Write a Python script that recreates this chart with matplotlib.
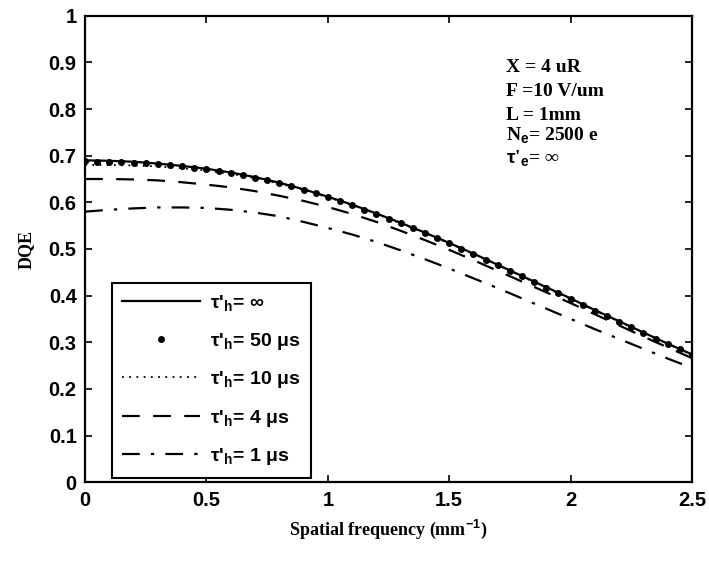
import numpy as np
import matplotlib
matplotlib.use("Agg")
import matplotlib.pyplot as plt

freq = [0.0, 0.1, 0.2, 0.3, 0.4, 0.5, 0.6, 0.7, 0.8, 0.9, 1.0, 1.1, 1.2,
        1.3, 1.4, 1.5, 1.6, 1.7, 1.8, 1.9, 2.0, 2.1, 2.2, 2.3, 2.4, 2.5]
dqe_inf = [0.690, 0.689, 0.687, 0.683, 0.678, 0.672, 0.664, 0.654, 0.642, 0.628,
           0.612, 0.595, 0.576, 0.556, 0.535, 0.513, 0.490, 0.466, 0.442, 0.418,
           0.394, 0.369, 0.345, 0.321, 0.297, 0.274]
dqe_50us = [0.688, 0.687, 0.685, 0.682, 0.677, 0.671, 0.663, 0.653, 0.641, 0.627,
            0.611, 0.594, 0.575, 0.555, 0.534, 0.512, 0.489, 0.465, 0.441, 0.417,
            0.393, 0.368, 0.344, 0.320, 0.296, 0.273]
dqe_10us = [0.680, 0.680, 0.679, 0.677, 0.673, 0.668, 0.661, 0.652, 0.640, 0.627,
            0.611, 0.594, 0.575, 0.555, 0.534, 0.512, 0.489, 0.465, 0.441, 0.417,
            0.393, 0.368, 0.344, 0.320, 0.296, 0.273]
dqe_4us = [0.650, 0.650, 0.649, 0.647, 0.643, 0.638, 0.632, 0.624, 0.614, 0.603,
           0.590, 0.575, 0.558, 0.539, 0.519, 0.498, 0.476, 0.453, 0.430, 0.407,
           0.384, 0.360, 0.336, 0.312, 0.289, 0.266]
dqe_1us = [0.580, 0.584, 0.587, 0.589, 0.589, 0.588, 0.584, 0.578, 0.570, 0.558,
           0.545, 0.531, 0.515, 0.497, 0.478, 0.458, 0.437, 0.416, 0.394, 0.372,
           0.350, 0.328, 0.307, 0.286, 0.265, 0.245]

labels = [r"$\tau$'$_{\rm h}$= ∞", r"$\tau$'$_{\rm h}$= 50 μs", r"$\tau$'$_{\rm h}$= 10 μs",
          r"$\tau$'$_{\rm h}$= 4 μs", r"$\tau$'$_{\rm h}$= 1 μs"]
xticks = [0, 0.5, 1, 1.5, 2, 2.5]
yticks = [0, 0.1, 0.2, 0.3, 0.4, 0.5, 0.6, 0.7, 0.8, 0.9, 1]
info_lines = ["X = 4 uR", "F =10 V/um", "L = 1mm", r"N$_{\rm e}$= 2500 e", r"$\tau$'$_{\rm e}$= ∞"]

plt.rcParams['mathtext.fontset'] = 'custom'
plt.rcParams['mathtext.rm'] = 'Liberation Sans:bold'
plt.rcParams['mathtext.it'] = 'Liberation Sans:bold'
plt.rcParams['mathtext.bf'] = 'Liberation Sans:bold'

fig = plt.figure(figsize=(7.09, 5.62), dpi=100)
ax = fig.add_axes([0.12, 0.142, 0.856, 0.830])

# fine interpolation only for the dot-marker density of the 50 us series
xf = np.arange(0, 2.5001, 0.05)
yf = np.interp(xf, freq, dqe_50us)

ax.plot(freq, dqe_inf, color='black', lw=1.6, ls='-', label=labels[0])
ax.plot(xf, yf, color='black', ls='none', marker='o', ms=4, label=labels[1])
ax.plot(freq, dqe_10us, color='black', lw=1.3, ls=(0, (1, 3)), label=labels[2])
ax.plot(freq, dqe_4us, color='black', lw=1.6, ls=(0, (8, 6)), label=labels[3])
ax.plot(freq, dqe_1us, color='black', lw=1.6, ls=(0, (8, 5, 1.5, 5)), label=labels[4])

ax.set_xlim(0, 2.5)
ax.set_ylim(0, 1)
ax.set_xticks(xticks)
ax.set_yticks(yticks)
ax.set_xticklabels([f"{t:g}" for t in xticks], fontfamily='Liberation Sans', fontweight='bold', fontsize=14.5)
ax.set_yticklabels([f"{t:g}" for t in yticks], fontfamily='Liberation Sans', fontweight='bold', fontsize=14.5)
ax.tick_params(direction='in', top=True, right=True, length=5, width=1.2, pad=6)
for s in ax.spines.values():
    s.set_linewidth(1.6)

ax.set_xlabel(r"Spatial frequency (mm$^{\mathbf{-1}}$)", fontfamily='Liberation Serif',
              fontweight='bold', fontsize=13, labelpad=6)
ax.set_ylabel("DQE", fontfamily='Liberation Serif', fontweight='bold', fontsize=13, labelpad=10)

leg = ax.legend(loc='lower left', bbox_to_anchor=(0.044, 0.009), borderaxespad=0,
                fancybox=False, edgecolor='black', framealpha=1, handlelength=4.0,
                handletextpad=0.5, labelspacing=0.9, borderpad=0.55,
                prop={'family': 'Liberation Sans', 'weight': 'bold', 'size': 14})
leg.get_frame().set_linewidth(1.5)

ys = [0.89, 0.838, 0.787, 0.745, 0.695]
for t, yy in zip(info_lines, ys):
    ax.text(0.694, yy, t, transform=ax.transAxes, fontfamily='Liberation Serif',
            fontweight='bold', fontsize=14, ha='left', va='center')

fig.savefig("out.png", dpi=100)
